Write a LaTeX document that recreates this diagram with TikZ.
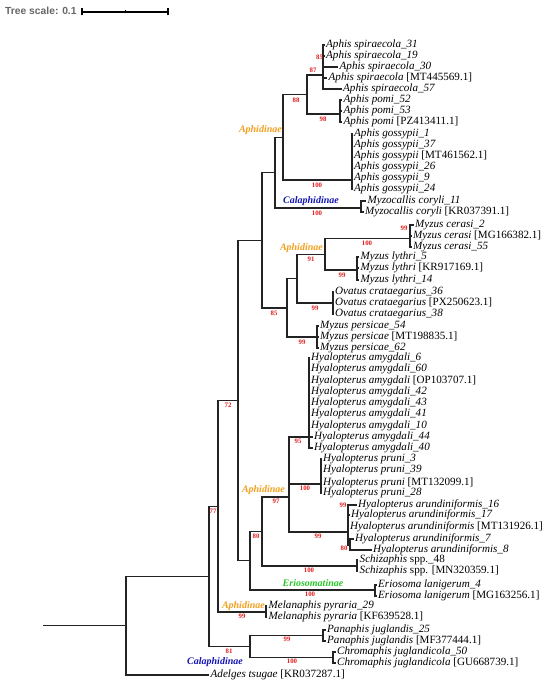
\documentclass[tikz,border=0pt]{standalone}
\usepackage{fontspec}
\setmainfont{Liberation Serif}
\newfontfamily\scalefamily{Liberation Sans}
\definecolor{subaph}{RGB}{240,160,30}
\definecolor{subcal}{RGB}{20,20,180}
\definecolor{suberi}{RGB}{40,200,40}
\definecolor{bootred}{RGB}{225,25,25}
\definecolor{treegray}{RGB}{35,35,35}
\begin{document}
\begin{tikzpicture}[
  x=1pt, y=-1pt,
  treeedge/.style={draw=treegray, line width=1.1pt},
  leaf/.style={anchor=west, inner xsep=1.5pt, inner ysep=0pt, text height=7.4pt, text depth=2.4pt, font={\fontsize{11.1}{11}\selectfont}},
  boot/.style={text=bootred, inner sep=0pt, font={\fontsize{6.8}{6.8}\selectfont\bfseries}},
  subfam/.style={inner sep=0pt, font={\fontsize{10}{10}\selectfont\bfseries\itshape}},
  barline/.style={draw=black, line width=1.2pt}
]
\useasboundingbox (0,0) rectangle (550,687);
\node[anchor=west, inner sep=0pt, text=black!60] (scalelbl) at (5,11) {\scalefamily\bfseries\fontsize{10.3}{10.3}\selectfont Tree scale: 0.1};
\coordinate (bar0) at (82,12);
\coordinate (barm) at (125,12);
\coordinate (bar1) at (168,12);
\draw[barline] (bar0) -- (bar1);
\draw[barline] ([yshift=-3.5pt]bar0) -- ([yshift=3.5pt]bar0);
\draw[barline] ([yshift=-3.5pt]bar1) -- ([yshift=3.5pt]bar1);
\draw[barline, line width=0.8pt] ([yshift=-1.5pt]barm) -- ([yshift=1.5pt]barm);
\coordinate (r0) at (43.0000,625.7000);
\coordinate (nR) at (126.0000,625.7000);
\coordinate (nA) at (209.0000,576.4000);
\coordinate (nB) at (218.0000,506.3000);
\coordinate (nC) at (238.0000,400.6000);
\coordinate (nI) at (262.0000,240.4000);
\coordinate (nO) at (275.0000,172.7500);
\coordinate (nL) at (283.0000,137.5000);
\coordinate (nM) at (307.0000,94.5000);
\coordinate (spir) at (323.0000,75.0000);
\coordinate (pomi) at (340.0000,114.0000);
\coordinate (goss) at (352.0000,180.0000);
\coordinate (myzo) at (361.0000,208.0000);
\coordinate (nJ) at (287.0000,308.0000);
\coordinate (nK) at (297.0000,278.7500);
\coordinate (nP) at (325.0000,254.5000);
\coordinate (cera) at (410.0000,238.7500);
\coordinate (lyth) at (357.0000,270.0000);
\coordinate (ovat) at (333.0000,303.0000);
\coordinate (pers) at (317.0000,337.0000);
\coordinate (nD) at (250.0000,560.7500);
\coordinate (nF) at (262.0000,531.5000);
\coordinate (nG) at (289.0000,497.0000);
\coordinate (amyg) at (309.0000,437.0000);
\coordinate (prun) at (321.0000,484.0000);
\coordinate (arun) at (348.0000,532.0000);
\coordinate (arus) at (350.0000,545.0000);
\coordinate (schi) at (357.0000,566.0000);
\coordinate (erio) at (375.0000,590.0000);
\coordinate (mela) at (266.0000,612.0000);
\coordinate (nE) at (250.0000,646.5000);
\coordinate (pana) at (323.0000,635.5000);
\coordinate (chro) at (333.0000,657.5000);
\node[leaf] (sp31) at (324.5,45) {\textit{Aphis spiraecola\_31}};
\node[leaf] (sp19) at (324.5,56) {\textit{Aphis spiraecola\_19}};
\node[leaf] (sp30) at (338.0,67) {\textit{Aphis spiraecola\_30}};
\node[leaf] (spmt) at (327.0,78) {\textit{Aphis spiraecola} [MT445569.1]};
\node[leaf] (sp57) at (341.5,89) {\textit{Aphis spiraecola\_57}};
\node[leaf] (po52) at (342.0,100) {\textit{Aphis pomi\_52}};
\node[leaf] (po53) at (342.0,111) {\textit{Aphis pomi\_53}};
\node[leaf] (popz) at (342.0,122) {\textit{Aphis pomi} [PZ413411.1]};
\node[leaf] (go01) at (352.5,134) {\textit{Aphis gossypii\_1}};
\node[leaf] (go37) at (352.5,145) {\textit{Aphis gossypii\_37}};
\node[leaf] (gomt) at (352.5,156) {\textit{Aphis gossypii} [MT461562.1]};
\node[leaf] (go26) at (352.5,167) {\textit{Aphis gossypii\_26}};
\node[leaf] (go09) at (352.5,178) {\textit{Aphis gossypii\_9}};
\node[leaf] (go24) at (352.5,189) {\textit{Aphis gossypii\_24}};
\node[leaf] (my11) at (366.0,201) {\textit{Myzocallis coryli\_11}};
\node[leaf] (mykr) at (363.5,212) {\textit{Myzocallis coryli} [KR037391.1]};
\node[leaf] (ce02) at (413.5,225) {\textit{Myzus cerasi\_2}};
\node[leaf] (cemg) at (411.5,236) {\textit{Myzus cerasi} [MG166382.1]};
\node[leaf] (ce55) at (411.5,247) {\textit{Myzus cerasi\_55}};
\node[leaf] (ly05) at (359.0,257) {\textit{Myzus lythri\_5}};
\node[leaf] (lykr) at (359.0,268) {\textit{Myzus lythri} [KR917169.1]};
\node[leaf] (ly14) at (359.0,280) {\textit{Myzus lythri\_14}};
\node[leaf] (ov36) at (333.5,292) {\textit{Ovatus crataegarius\_36}};
\node[leaf] (ovpx) at (333.5,303) {\textit{Ovatus crataegarius} [PX250623.1]};
\node[leaf] (ov38) at (333.5,314) {\textit{Ovatus crataegarius\_38}};
\node[leaf] (pe54) at (318.5,326) {\textit{Myzus persicae\_54}};
\node[leaf] (pemt) at (318.5,337) {\textit{Myzus persicae} [MT198835.1]};
\node[leaf] (pe62) at (318.5,348) {\textit{Myzus persicae\_62}};
\node[leaf] (am06) at (309.5,358) {\textit{Hyalopterus amygdali\_6}};
\node[leaf] (am60) at (309.5,369) {\textit{Hyalopterus amygdali\_60}};
\node[leaf] (amop) at (309.5,381) {\textit{Hyalopterus amygdali} [OP103707.1]};
\node[leaf] (am42) at (309.5,392) {\textit{Hyalopterus amygdali\_42}};
\node[leaf] (am43) at (309.5,403) {\textit{Hyalopterus amygdali\_43}};
\node[leaf] (am41) at (309.5,414) {\textit{Hyalopterus amygdali\_41}};
\node[leaf] (am10) at (309.5,426) {\textit{Hyalopterus amygdali\_10}};
\node[leaf] (am44) at (312.5,437) {\textit{Hyalopterus amygdali\_44}};
\node[leaf] (am40) at (312.5,448) {\textit{Hyalopterus amygdali\_40}};
\node[leaf] (pr03) at (321.5,459) {\textit{Hyalopterus pruni\_3}};
\node[leaf] (pr39) at (321.5,470) {\textit{Hyalopterus pruni\_39}};
\node[leaf] (prmt) at (321.5,483) {\textit{Hyalopterus pruni} [MT132099.1]};
\node[leaf] (pr28) at (321.5,493) {\textit{Hyalopterus pruni\_28}};
\node[leaf] (ar16) at (356.5,505) {\textit{Hyalopterus arundiniformis\_16}};
\node[leaf] (ar17) at (349.5,515) {\textit{Hyalopterus arundiniformis\_17}};
\node[leaf] (armt) at (348.5,527) {\textit{Hyalopterus arundiniformis} [MT131926.1]};
\node[leaf] (ar07) at (353.5,539) {\textit{Hyalopterus arundiniformis\_7}};
\node[leaf] (ar08) at (371.5,550) {\textit{Hyalopterus arundiniformis\_8}};
\node[leaf] (sc48) at (358.0,560) {\textit{Schizaphis} spp.\_48};
\node[leaf] (scmn) at (358.0,571) {\textit{Schizaphis} spp. [MN320359.1]};
\node[leaf] (er04) at (376.5,585) {\textit{Eriosoma lanigerum\_4}};
\node[leaf] (ermg) at (376.5,596) {\textit{Eriosoma lanigerum} [MG163256.1]};
\node[leaf] (me29) at (267.0,606) {\textit{Melanaphis pyraria\_29}};
\node[leaf] (mekf) at (267.0,617) {\textit{Melanaphis pyraria} [KF639528.1]};
\node[leaf] (pa25) at (325.5,630) {\textit{Panaphis juglandis\_25}};
\node[leaf] (pamf) at (325.5,641) {\textit{Panaphis juglandis} [MF377444.1]};
\node[leaf] (ch50) at (335.5,652) {\textit{Chromaphis juglandicola\_50}};
\node[leaf] (chgu) at (335.5,663) {\textit{Chromaphis juglandicola} [GU668739.1]};
\node[leaf] (adel) at (209.0,675) {\textit{Adelges tsugae} [KR037287.1]};
\draw[treeedge] (r0) -- (nR);
\draw[treeedge] (nR) |- (nA);
\draw[treeedge] (nR) |- (adel.west);
\draw[treeedge] (nA) |- (nB);
\draw[treeedge] (nA) |- (nE);
\draw[treeedge] (nB) |- (nC);
\draw[treeedge] (nB) |- (mela);
\draw[treeedge] (nC) |- (nI);
\draw[treeedge] (nC) |- (nD);
\draw[treeedge] (nI) |- (nO);
\draw[treeedge] (nI) |- (nJ);
\draw[treeedge] (nO) |- (nL);
\draw[treeedge] (nO) |- (myzo);
\draw[treeedge] (nL) |- (nM);
\draw[treeedge] (nL) |- (goss);
\draw[treeedge] (nM) |- (spir);
\draw[treeedge] (nM) |- (pomi);
\foreach \lf in {sp31,sp19,sp30,spmt,sp57} \draw[treeedge] (spir) |- (\lf.west);
\foreach \lf in {po52,po53,popz} \draw[treeedge] (pomi) |- (\lf.west);
\foreach \lf in {go01,go37,gomt,go26,go09,go24} \draw[treeedge] (goss) |- (\lf.west);
\foreach \lf in {my11,mykr} \draw[treeedge] (myzo) |- (\lf.west);
\draw[treeedge] (nJ) |- (nK);
\draw[treeedge] (nJ) |- (pers);
\draw[treeedge] (nK) |- (nP);
\draw[treeedge] (nK) |- (ovat);
\draw[treeedge] (nP) |- (cera);
\draw[treeedge] (nP) |- (lyth);
\foreach \lf in {ce02,cemg,ce55} \draw[treeedge] (cera) |- (\lf.west);
\foreach \lf in {ly05,lykr,ly14} \draw[treeedge] (lyth) |- (\lf.west);
\foreach \lf in {ov36,ovpx,ov38} \draw[treeedge] (ovat) |- (\lf.west);
\foreach \lf in {pe54,pemt,pe62} \draw[treeedge] (pers) |- (\lf.west);
\draw[treeedge] (nD) |- (nF);
\draw[treeedge] (nD) |- (erio);
\draw[treeedge] (nF) |- (nG);
\draw[treeedge] (nF) |- (schi);
\draw[treeedge] (nG) |- (amyg);
\draw[treeedge] (nG) |- (prun);
\draw[treeedge] (nG) |- (arun);
\foreach \lf in {am06,am60,amop,am42,am43,am41,am10,am44,am40} \draw[treeedge] (amyg) |- (\lf.west);
\foreach \lf in {pr03,pr39,prmt,pr28} \draw[treeedge] (prun) |- (\lf.west);
\foreach \lf in {ar16,ar17,armt} \draw[treeedge] (arun) |- (\lf.west);
\draw[treeedge] (arun) |- (arus);
\foreach \lf in {ar07,ar08} \draw[treeedge] (arus) |- (\lf.west);
\foreach \lf in {sc48,scmn} \draw[treeedge] (schi) |- (\lf.west);
\foreach \lf in {er04,ermg} \draw[treeedge] (erio) |- (\lf.west);
\foreach \lf in {me29,mekf} \draw[treeedge] (mela) |- (\lf.west);
\draw[treeedge] (nE) |- (pana);
\draw[treeedge] (nE) |- (chro);
\foreach \lf in {pa25,pamf} \draw[treeedge] (pana) |- (\lf.west);
\foreach \lf in {ch50,chgu} \draw[treeedge] (chro) |- (\lf.west);
\node[boot] (bs85a) at (319.5,57) {85};
\node[boot] (bs87) at (313,70) {87};
\node[boot] (bs88) at (296,100) {88};
\node[boot] (bs98) at (323,119) {98};
\node[boot] (bs100a) at (317,185) {100};
\node[boot] (bs100b) at (317,213) {100};
\node[boot] (bs99a) at (404,228) {99};
\node[boot] (bs100c) at (367,243) {100};
\node[boot] (bs91) at (311,259) {91};
\node[boot] (bs99b) at (342,275) {99};
\node[boot] (bs99c) at (315,308) {99};
\node[boot] (bs85b) at (274,313) {85};
\node[boot] (bs99d) at (302,342) {99};
\node[boot] (bs72) at (228,405) {72};
\node[boot] (bs95) at (298,441) {95};
\node[boot] (bs100d) at (305,488) {100};
\node[boot] (bs97) at (276,501) {97};
\node[boot] (bs99e) at (343,505) {99};
\node[boot] (bs99f) at (318,536) {99};
\node[boot] (bs80a) at (344,548) {80};
\node[boot] (bs80b) at (256,536) {80};
\node[boot] (bs100e) at (309,570) {100};
\node[boot] (bs100f) at (310,594) {100};
\node[boot] (bs77) at (213,511) {77};
\node[boot] (bs99g) at (242,616) {99};
\node[boot] (bs99h) at (287,639) {99};
\node[boot] (bs100g) at (292,661) {100};
\node[boot] (bs81) at (229,651) {81};
\node[subfam, text=subaph, anchor=east] (aphA) at (282,130) {Aphidinae};
\node[subfam, text=subcal] (calA) at (311,201) {Calaphidinae};
\node[subfam, text=subaph, anchor=east] (aphB) at (323,248) {Aphidinae};
\node[subfam, text=subaph, anchor=east] (aphC) at (285,490) {Aphidinae};
\node[subfam, text=suberi] (eriA) at (313,583) {Eriosomatinae};
\node[subfam, text=subaph, anchor=east] (aphD) at (265,606) {Aphidinae};
\node[subfam, text=subcal, anchor=east] (calB) at (243,662) {Calaphidinae};
\end{tikzpicture}
\end{document}
